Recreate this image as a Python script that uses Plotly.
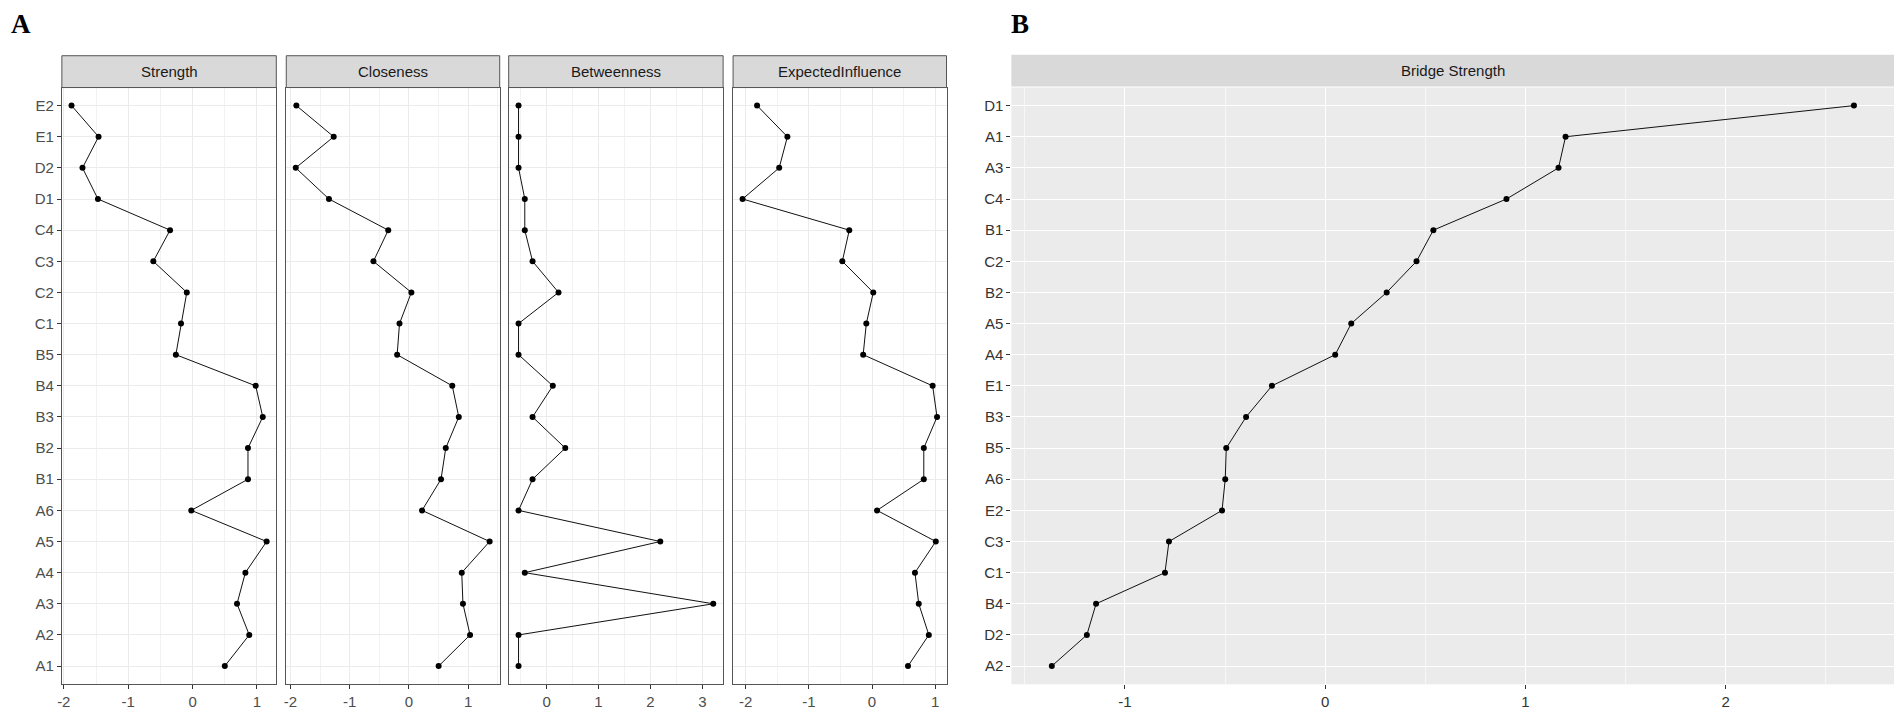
import plotly.graph_objects as go

# panel A: centrality indices (z-scores), nodes listed bottom to top
nodes_a = ['A1', 'A2', 'A3', 'A4', 'A5', 'A6', 'B1', 'B2', 'B3', 'B4', 'B5',
           'C1', 'C2', 'C3', 'C4', 'D1', 'D2', 'E1', 'E2']
strength = [0.50, 0.88, 0.69, 0.82, 1.15, -0.02, 0.86, 0.86, 1.09, 0.98, -0.26,
            -0.18, -0.09, -0.61, -0.35, -1.47, -1.71, -1.46, -1.88]
closeness = [0.50, 1.03, 0.91, 0.89, 1.36, 0.22, 0.54, 0.62, 0.84, 0.73, -0.20,
             -0.16, 0.04, -0.60, -0.35, -1.35, -1.91, -1.27, -1.90]
betweenness = [-0.54, -0.54, 3.21, -0.42, 2.19, -0.54, -0.27, 0.36, -0.27, 0.12, -0.54,
               -0.54, 0.23, -0.27, -0.42, -0.42, -0.54, -0.54, -0.54]
expected_influence = [0.57, 0.90, 0.74, 0.68, 1.01, 0.08, 0.82, 0.82, 1.03, 0.96, -0.14,
                      -0.09, 0.02, -0.47, -0.36, -2.05, -1.47, -1.34, -1.82]
panel_titles = ['Strength', 'Closeness', 'Betweenness', 'ExpectedInfluence']

# panel B: bridge strength, nodes listed bottom to top
nodes_b = ['A2', 'D2', 'B4', 'C1', 'C3', 'E2', 'A6', 'B5', 'B3', 'E1',
           'A4', 'A5', 'B2', 'C2', 'B1', 'C4', 'A3', 'A1', 'D1']
bridge_strength = [-1.365, -1.19, -1.144, -0.80, -0.78, -0.515, -0.499, -0.494, -0.395, -0.266,
                   0.05, 0.13, 0.307, 0.456, 0.54, 0.905, 1.165, 1.20, 2.64]

x_tick_vals = [-2, -1, 0, 1, 2, 3]
x_tick_text = ['-2', '-1', '0', '1', '2', '3']

# page body has an 8px margin, so the figure is a bit smaller and offset
OFF = 8
W, H = 1902 - 2 * OFF, 718 - 2 * OFF


def fx(v):
    return (v - OFF) / W


def fy(v):
    return 1 - (v - OFF) / H


plot_top, plot_bot = 88, 688
strip_top = 56
ydom = [fy(plot_bot), fy(plot_top)]

a_cols = [(57, 272), (282, 496), (505, 720), (730, 944)]
a_ranges = [[-2.03, 1.30], [-2.07, 1.53], [-0.73, 3.40], [-2.2, 1.18]]
a_values = [strength, closeness, betweenness, expected_influence]
b_col = (1009, 1894)
b_range = [-1.567, 2.84]

FONT = 'Liberation Sans, Arial'
tick_font = dict(family=FONT, size=15, color='#4D4D4D')
border = '#555555'

fig = go.Figure()
layout = dict(width=W, height=H, margin=dict(l=0, r=0, t=0, b=0),
              paper_bgcolor='white', plot_bgcolor='rgba(0,0,0,0)',
              showlegend=False, shapes=[], annotations=[])

for i, (vals, title) in enumerate(zip(a_values, panel_titles)):
    n = i + 1
    sx = '' if n == 1 else str(n)
    fig.add_trace(go.Scatter(x=vals, y=nodes_a, mode='lines+markers',
                             line=dict(color='#111111', width=1),
                             marker=dict(color='black', size=6),
                             xaxis='x' + sx, yaxis='y' + sx))
    c0, c1 = a_cols[i]
    layout['xaxis' + sx] = dict(
        domain=[fx(c0), fx(c1)], anchor='y' + sx, range=a_ranges[i],
        tickmode='array', tickvals=x_tick_vals, ticktext=x_tick_text,
        ticks='outside', ticklen=4,
        tickcolor='#333333', tickfont=tick_font, showgrid=True,
        gridcolor='#EBEBEB', gridwidth=1, zeroline=False,
        showline=True, mirror=True, linecolor=border, linewidth=1,
        minor=dict(dtick=0.5, tick0=0, showgrid=True, gridcolor='#F2F2F2', gridwidth=0.6))
    layout['yaxis' + sx] = dict(
        domain=ydom, anchor='x' + sx, type='category', categoryorder='array',
        categoryarray=nodes_a, range=[-0.58, 18.58],
        showticklabels=(n == 1), ticks='outside' if n == 1 else '', ticklen=4,
        tickcolor='#333333', tickfont=tick_font, showgrid=True,
        gridcolor='#EBEBEB', gridwidth=1, zeroline=False,
        showline=True, mirror=True, linecolor=border, linewidth=1)
    layout['shapes'].append(dict(type='rect', xref='paper', yref='paper',
                                 x0=fx(c0), x1=fx(c1), y0=fy(plot_top), y1=fy(strip_top),
                                 fillcolor='#D9D9D9', line=dict(color=border, width=1)))
    layout['annotations'].append(dict(text=title, xref='paper', yref='paper',
                                      x=fx((c0 + c1) / 2), y=fy((plot_top + strip_top) / 2),
                                      showarrow=False, xanchor='center', yanchor='middle',
                                      font=dict(family=FONT, size=15, color='#1A1A1A')))

# panel B
fig.add_trace(go.Scatter(x=bridge_strength, y=nodes_b, mode='lines+markers',
                         line=dict(color='#111111', width=1),
                         marker=dict(color='black', size=6),
                         xaxis='x5', yaxis='y5'))
layout['xaxis5'] = dict(
    domain=[fx(b_col[0]), fx(b_col[1])], anchor='y5', range=b_range,
    tickmode='array', tickvals=x_tick_vals, ticktext=x_tick_text,
    ticks='outside', ticklen=4,
    tickcolor='#333333', tickfont=dict(tick_font, color='#333333'),
    showgrid=True, gridcolor='white', gridwidth=1.4, zeroline=False, showline=False,
    minor=dict(dtick=0.5, tick0=0, showgrid=True, gridcolor='#F7F7F7', gridwidth=0.7))
layout['yaxis5'] = dict(
    domain=ydom, anchor='x5', type='category', categoryorder='array',
    categoryarray=nodes_b, range=[-0.58, 18.58],
    ticks='outside', ticklen=4, tickcolor='#333333',
    tickfont=dict(tick_font, color='#333333'),
    showgrid=True, gridcolor='white', gridwidth=1.4, zeroline=False, showline=False)
layout['shapes'].append(dict(type='rect', xref='x5 domain', yref='y5 domain',
                             x0=0, x1=1, y0=0, y1=1, layer='below',
                             fillcolor='#EBEBEB', line=dict(width=0)))
layout['shapes'].append(dict(type='rect', xref='paper', yref='paper',
                             x0=fx(b_col[0]), x1=fx(b_col[1]),
                             y0=fy(plot_top - 1), y1=fy(strip_top - 1),
                             fillcolor='#D9D9D9', line=dict(width=0)))
layout['annotations'].append(dict(text='Bridge Strength', xref='paper', yref='paper',
                                  x=fx((b_col[0] + b_col[1]) / 2),
                                  y=fy((plot_top + strip_top) / 2 - 1),
                                  showarrow=False, xanchor='center', yanchor='middle',
                                  font=dict(family=FONT, size=15, color='#1A1A1A')))

# panel letters
for letter, xpx in [('A', 4), ('B', 1007)]:
    layout['annotations'].append(dict(text='<b>%s</b>' % letter, xref='paper', yref='paper',
                                      x=fx(xpx), y=fy(7), xanchor='left', yanchor='top',
                                      showarrow=False,
                                      font=dict(family='Liberation Serif, Times New Roman',
                                                size=27, color='black')))

fig.update_layout(**layout)
fig.write_html('out.html')
